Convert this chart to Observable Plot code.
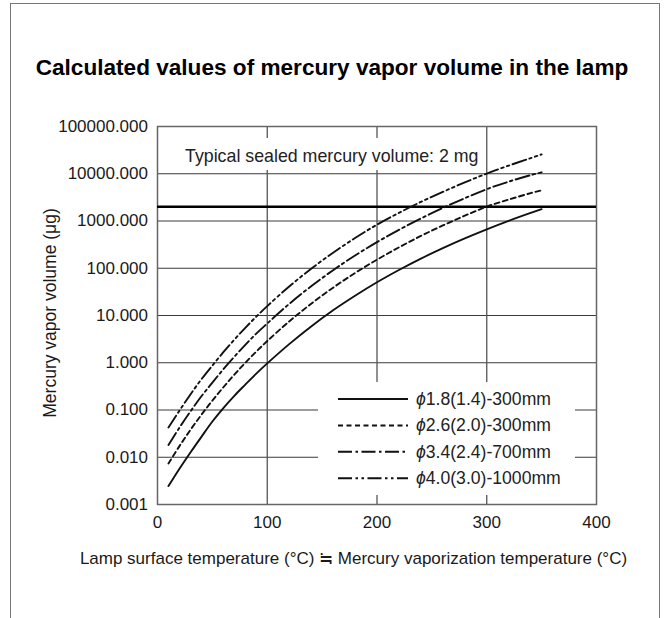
<!DOCTYPE html>
<html>
<head>
<meta charset="utf-8">
<script src="https://cdn.jsdelivr.net/npm/d3@7"></script>
<script src="https://cdn.jsdelivr.net/npm/@observablehq/plot@0.6"></script>
<style>
  html, body { margin: 0; padding: 0; background: #fff; }
  body { font-family: "Liberation Sans", Arial, Helvetica, sans-serif; }
  #page { position: relative; width: 664px; height: 618px; overflow: hidden; background: #fff; }
  #frame { position: absolute; left: 10px; top: 3px; width: 650px; height: 700px; border: 1.5px solid #777; box-sizing: border-box; }
  #chart { position: absolute; left: 0; top: 0; }
  #overlay { position: absolute; left: 0; top: 0; pointer-events: none; font-family: "Liberation Sans", Arial, Helvetica, sans-serif; }
</style>
</head>
<body>
<div id="page">
  <div id="frame"></div>
  <div id="chart"></div>
  <svg id="overlay" width="664" height="618" xmlns="http://www.w3.org/2000/svg">
    <text x="332" y="75" text-anchor="middle" font-size="22.6" font-weight="bold" fill="#000">Calculated values of mercury vapor volume in the lamp</text>
    <text transform="translate(56,313) rotate(-90)" text-anchor="middle" font-size="17.5" fill="#1a1a1a">Mercury vapor volume (μg)</text>
    <text x="353.5" y="564" text-anchor="middle" font-size="17" fill="#1a1a1a">Lamp surface temperature (°C) ≒ Mercury vaporization temperature (°C)</text>
    <rect x="179" y="138" width="305" height="32" fill="#fff"></rect>
    <text x="185" y="162" font-size="17.8" fill="#222">Typical sealed mercury volume: 2 mg</text>
    <g id="legend"></g>
  </svg>
</div>
<script>
// Lamp surface temperature (°C)
const temps = [10, 20, 30, 40, 50, 60, 70, 80, 90, 100, 120, 140, 160, 180, 200, 220, 240, 260, 280, 300, 320, 340, 350];

// Mercury vapor volume (μg)
const phi18 = [0.00245, 0.0057, 0.0126, 0.027, 0.057, 0.110, 0.200, 0.345, 0.59, 0.97, 2.48, 5.87, 12.9, 26.2, 50.5, 91.8, 160, 267, 429, 667, 1007, 1479, 1778];
const phi26 = [0.00741, 0.0172, 0.0379, 0.0792, 0.158, 0.303, 0.560, 0.998, 1.72, 2.88, 7.50, 17.7, 38.8, 79.3, 152, 277, 483, 805, 1294, 2014, 2838, 3890, 4467];
const phi34 = [0.0182, 0.0423, 0.0931, 0.195, 0.380, 0.728, 1.34, 2.39, 4.13, 6.76, 17.6, 41.6, 91.0, 186, 357, 650, 1132, 1888, 3034, 4721, 6808, 9333, 10715];
const phi40 = [0.0427, 0.0968, 0.213, 0.446, 0.871, 1.67, 3.08, 5.48, 9.46, 15.8, 41.2, 97.5, 213, 436, 838, 1489, 2535, 4130, 6561, 10093, 14894, 21380, 25704];

// Legend labels: symbol + size text
const seriesSymbol = "ϕ";
const seriesNames = ["1.8(1.4)-300mm", "2.6(2.0)-300mm", "3.4(2.4)-700mm", "4.0(3.0)-1000mm"];

// Typical sealed mercury volume: 2 mg = 2000 μg
const sealedVolume = 2000;

// Tick values
const yTicks = [0.001, 0.01, 0.1, 1, 10, 100, 1000, 10000, 100000];
const xTicks = [0, 100, 200, 300, 400];

// styles
const dashes = [null, "5,3.5", "14,3.5,2.5,3.5", "14,3.5,2.5,3.5,2.5,3.5"];

const seriesValues = [phi18, phi26, phi34, phi40];
const rows = [];
seriesNames.forEach((name, k) => {
  temps.forEach((t, i) => rows.push({series: name, t, v: seriesValues[k][i]}));
});

const font = "Liberation Sans, Arial, Helvetica, sans-serif";

const plot = Plot.plot({
  width: 664,
  height: 618,
  marginLeft: 157,
  marginRight: 68,
  marginTop: 126,
  marginBottom: 114,
  style: {fontFamily: font, fontSize: "17px", color: "#1a1a1a", background: "transparent", overflow: "visible"},
  x: {domain: [0, 400], label: null},
  y: {type: "log", domain: [0.001, 100000], label: null},
  marks: [
    Plot.ruleY(yTicks.slice(1, -1), {stroke: "#3a3a3a", strokeWidth: 1}),
    Plot.ruleX(xTicks.slice(1, -1), {stroke: "#555", strokeWidth: 1.3}),
    Plot.frame({stroke: "#666", strokeWidth: 1.5}),
    Plot.ruleY([sealedVolume], {stroke: "#000", strokeWidth: 2.5}),
    ...seriesNames.map((name, k) =>
      Plot.line(rows.filter(d => d.series === name), {
        x: "t", y: "v", curve: "catmull-rom",
        stroke: "#111", strokeWidth: 1.9,
        strokeDasharray: dashes[k] || undefined
      })
    ),
    Plot.axisX(xTicks, {tickSize: 0, tickPadding: 11, fontSize: 17, label: null, tickFormat: d => String(d)}),
    Plot.axisY(yTicks, {tickSize: 0, tickPadding: 9.5, fontSize: 17, label: null, tickFormat: d3.format(".3f")})
  ]
});
document.getElementById("chart").appendChild(plot);

// Legend built from the series names and line styles
const lg = d3.select("#legend");
lg.append("rect").attr("x", 318).attr("y", 382).attr("width", 257).attr("height", 113).attr("fill", "#fff");
seriesNames.forEach((name, k) => {
  const cy = 399 + k * 26.4;
  const ln = lg.append("line")
    .attr("x1", 338).attr("x2", 408).attr("y1", cy).attr("y2", cy)
    .attr("stroke", "#111").attr("stroke-width", 2);
  if (dashes[k]) ln.attr("stroke-dasharray", dashes[k]);
  const tx = lg.append("text").attr("x", 416).attr("y", cy + 6)
    .attr("font-size", 17.6).attr("fill", "#222");
  tx.append("tspan").attr("font-style", "italic").text(seriesSymbol);
  tx.append("tspan").text(name);
});
</script>
</body>
</html>
